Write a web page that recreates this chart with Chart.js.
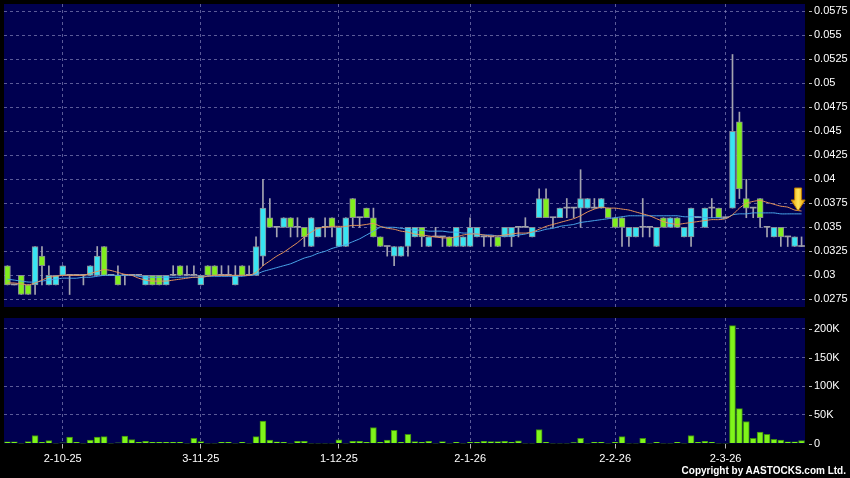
<!DOCTYPE html>
<html>
<head>
<meta charset="utf-8">
<script src="https://cdn.jsdelivr.net/npm/chart.js@4.4.1/dist/chart.umd.min.js"></script>
<style>
    html, body { margin: 0; padding: 0; background: #000; }
    #wrap { position: relative; width: 850px; height: 478px; background: #000; overflow: hidden; }
    #priceBox { position: absolute; left: 0; top: 0; }
    #volBox { position: absolute; left: 0; top: 312px; }
    #copy {
        position: absolute; right: 4px; top: 465px;
        color: #fff; font: bold 10px "Liberation Sans", Arial, sans-serif;
        white-space: nowrap;
    }
</style>
</head>
<body>
<div id="wrap">
    <div id="priceBox"><canvas id="priceChart" width="850" height="312"></canvas></div>
    <div id="volBox"><canvas id="volChart" width="850" height="166"></canvas></div>
    <div id="copy">Copyright by AASTOCKS.com Ltd.</div>
</div>
<script>
// ---- data (one entry per trading day) ----
const DATE_TICKS = ['2-10-25', '3-11-25', '1-12-25', '2-1-26', '2-2-26', '2-3-26'];
const DATE_TICK_INDEX = [8, 28, 48, 67, 88, 104];

const OPEN = [
    0.031, 0.029, 0.030, 0.029, 0.029, 0.032, 0.029, 0.029, 0.030, 0.030,
    0.030, 0.030, 0.030, 0.030, 0.033, 0.030, 0.030, 0.030, 0.030, 0.030,
    0.029, 0.030, 0.030, 0.029, 0.030, 0.031, 0.030, 0.030, 0.029, 0.031,
    0.031, 0.030, 0.030, 0.029, 0.031, 0.030, 0.030, 0.032, 0.036, 0.035,
    0.035, 0.036, 0.035, 0.035, 0.033, 0.034, 0.035, 0.036, 0.033, 0.033,
    0.038, 0.036, 0.037, 0.036, 0.034, 0.033, 0.032, 0.032, 0.033, 0.034,
    0.035, 0.033, 0.034, 0.034, 0.034, 0.033, 0.033, 0.033, 0.034, 0.034,
    0.034, 0.034, 0.034, 0.034, 0.035, 0.035, 0.034, 0.036, 0.038, 0.036,
    0.036, 0.037, 0.037, 0.037, 0.037, 0.037, 0.037, 0.037, 0.036, 0.036,
    0.034, 0.034, 0.035, 0.035, 0.033, 0.036, 0.035, 0.036, 0.034, 0.034,
    0.036, 0.035, 0.037, 0.037, 0.036, 0.037, 0.046, 0.038, 0.037, 0.038,
    0.035, 0.034, 0.035, 0.034, 0.033, 0.033
];
const HIGH = [
    0.031, 0.029, 0.030, 0.029, 0.033, 0.033, 0.031, 0.030, 0.031, 0.030,
    0.030, 0.030, 0.031, 0.033, 0.033, 0.030, 0.031, 0.030, 0.030, 0.030,
    0.030, 0.030, 0.030, 0.030, 0.031, 0.031, 0.031, 0.031, 0.030, 0.031,
    0.031, 0.031, 0.031, 0.031, 0.031, 0.031, 0.034, 0.040, 0.038, 0.035,
    0.036, 0.036, 0.036, 0.035, 0.036, 0.035, 0.036, 0.036, 0.035, 0.036,
    0.038, 0.036, 0.037, 0.037, 0.034, 0.033, 0.033, 0.033, 0.035, 0.035,
    0.035, 0.034, 0.035, 0.034, 0.034, 0.035, 0.034, 0.036, 0.035, 0.034,
    0.034, 0.034, 0.035, 0.035, 0.035, 0.036, 0.035, 0.039, 0.039, 0.036,
    0.037, 0.038, 0.037, 0.041, 0.038, 0.038, 0.038, 0.037, 0.036, 0.036,
    0.035, 0.035, 0.038, 0.035, 0.035, 0.036, 0.036, 0.036, 0.035, 0.037,
    0.036, 0.037, 0.038, 0.037, 0.036, 0.053, 0.047, 0.040, 0.037, 0.038,
    0.035, 0.035, 0.035, 0.034, 0.034, 0.034
];
const LOW = [
    0.029, 0.029, 0.028, 0.028, 0.028, 0.029, 0.029, 0.029, 0.030, 0.028,
    0.030, 0.029, 0.030, 0.030, 0.030, 0.030, 0.029, 0.029, 0.030, 0.030,
    0.029, 0.029, 0.029, 0.029, 0.030, 0.030, 0.030, 0.030, 0.029, 0.030,
    0.030, 0.030, 0.030, 0.029, 0.030, 0.030, 0.030, 0.031, 0.035, 0.034,
    0.035, 0.034, 0.034, 0.033, 0.033, 0.034, 0.034, 0.034, 0.033, 0.033,
    0.035, 0.035, 0.036, 0.034, 0.033, 0.032, 0.031, 0.032, 0.032, 0.034,
    0.033, 0.033, 0.034, 0.033, 0.033, 0.033, 0.033, 0.033, 0.034, 0.033,
    0.033, 0.033, 0.034, 0.033, 0.034, 0.035, 0.034, 0.036, 0.036, 0.035,
    0.036, 0.036, 0.036, 0.035, 0.037, 0.037, 0.037, 0.036, 0.035, 0.033,
    0.033, 0.034, 0.034, 0.034, 0.033, 0.035, 0.035, 0.035, 0.034, 0.033,
    0.036, 0.035, 0.036, 0.036, 0.036, 0.037, 0.038, 0.036, 0.036, 0.035,
    0.034, 0.034, 0.033, 0.033, 0.033, 0.033
];
const CLOSE = [
    0.029, 0.029, 0.028, 0.028, 0.033, 0.031, 0.030, 0.030, 0.031, 0.030,
    0.030, 0.030, 0.031, 0.032, 0.030, 0.030, 0.029, 0.030, 0.030, 0.030,
    0.030, 0.029, 0.029, 0.030, 0.030, 0.030, 0.030, 0.030, 0.030, 0.030,
    0.030, 0.030, 0.030, 0.030, 0.030, 0.030, 0.033, 0.037, 0.035, 0.035,
    0.036, 0.035, 0.035, 0.034, 0.036, 0.035, 0.035, 0.035, 0.035, 0.036,
    0.036, 0.036, 0.036, 0.034, 0.033, 0.033, 0.033, 0.033, 0.035, 0.035,
    0.034, 0.034, 0.034, 0.034, 0.033, 0.035, 0.034, 0.035, 0.035, 0.034,
    0.034, 0.033, 0.035, 0.035, 0.035, 0.035, 0.035, 0.038, 0.036, 0.036,
    0.037, 0.037, 0.037, 0.038, 0.038, 0.037, 0.038, 0.036, 0.035, 0.035,
    0.035, 0.035, 0.035, 0.035, 0.035, 0.035, 0.036, 0.035, 0.035, 0.037,
    0.036, 0.037, 0.037, 0.036, 0.036, 0.045, 0.039, 0.037, 0.037, 0.036,
    0.035, 0.035, 0.034, 0.034, 0.034, 0.033
];
// volume in thousands of shares
const VOLUME_K = [
    3, 3, 0.5, 3.5, 14, 2, 5, 0.5, 1, 11,
    2, 0.5, 6, 11, 12, 0.5, 1, 13, 7, 2,
    4, 2, 2, 2, 2, 2, 0.5, 9, 3.5, 0.5,
    0.5, 2, 2, 0.5, 2, 0.5, 12, 39, 6, 3,
    2, 0.5, 4, 4, 0.5, 0.5, 0.5, 0.5, 6.5, 0.5,
    4, 4, 2, 28, 2, 6, 23, 2, 16, 3.5,
    2, 4, 0.5, 3.5, 0.5, 2, 0.5, 2, 2, 4,
    3.5, 3.5, 4, 2, 4.5, 0.5, 0.5, 24.5, 2, 0.5,
    0.5, 0.5, 1.5, 9, 0.5, 2, 2, 0.5, 2, 12,
    0.5, 0.5, 9, 0.5, 2, 0.5, 0.5, 2, 0.5, 14,
    2, 4, 2, 0.5, 0.5, 206, 61, 38.5, 9, 20,
    16, 7.5, 6, 3, 3, 5
];
// moving averages as drawn (orange = short, blue = long)
const MA_SHORT = [
    0.0292, 0.0292, 0.0291, 0.0290, 0.0292, 0.0295, 0.0298, 0.0299, 0.0300, 0.0300,
    0.0300, 0.0300, 0.0302, 0.0304, 0.0306, 0.0305, 0.0303, 0.0301, 0.0300, 0.0297,
    0.0295, 0.0294, 0.0294, 0.0294, 0.0295, 0.0296, 0.0297, 0.0298, 0.0298, 0.0299,
    0.0300, 0.0300, 0.0300, 0.0300, 0.0300, 0.0300, 0.0303, 0.0310, 0.0315, 0.0320,
    0.0324, 0.0329, 0.0334, 0.0340, 0.0345, 0.0349, 0.0350, 0.0351, 0.0351, 0.0351,
    0.0352, 0.0352, 0.0353, 0.0354, 0.0351, 0.0349, 0.0348, 0.0346, 0.0345, 0.0343,
    0.0342, 0.0341, 0.0340, 0.0339, 0.0339, 0.0340, 0.0342, 0.0343, 0.0343, 0.0342,
    0.0341, 0.0341, 0.0342, 0.0343, 0.0344, 0.0344, 0.0345, 0.0348, 0.0351, 0.0353,
    0.0355, 0.0357, 0.0359, 0.0362, 0.0366, 0.0369, 0.0371, 0.0370, 0.0370, 0.0369,
    0.0368, 0.0366, 0.0364, 0.0362, 0.0359, 0.0356, 0.0354, 0.0353, 0.0354, 0.0355,
    0.0356, 0.0357, 0.0358, 0.0358, 0.0359, 0.0363, 0.0370, 0.0375, 0.0377, 0.0378,
    0.0376, 0.0374, 0.0372, 0.0371, 0.0368, 0.0367
];
const MA_LONG = [
    0.0296, 0.0295, 0.0294, 0.0293, 0.0293, 0.0294, 0.0295, 0.0296, 0.0297, 0.0297,
    0.0297, 0.0298, 0.0298, 0.0299, 0.0300, 0.0300, 0.0300, 0.0300, 0.0300, 0.0299,
    0.0298, 0.0298, 0.0298, 0.0298, 0.0298, 0.0298, 0.0298, 0.0298, 0.0298, 0.0299,
    0.0299, 0.0299, 0.0299, 0.0299, 0.0299, 0.0300, 0.0301, 0.0304, 0.0306, 0.0308,
    0.0310, 0.0312, 0.0315, 0.0318, 0.0320, 0.0323, 0.0325, 0.0328, 0.0330, 0.0332,
    0.0335, 0.0338, 0.0342, 0.0346, 0.0350, 0.0350, 0.0350, 0.0349, 0.0348, 0.0347,
    0.0347, 0.0346, 0.0346, 0.0346, 0.0345, 0.0345, 0.0344, 0.0344, 0.0343, 0.0342,
    0.0342, 0.0341, 0.0341, 0.0341, 0.0342, 0.0343, 0.0345, 0.0346, 0.0348, 0.0349,
    0.0351, 0.0352, 0.0353, 0.0355, 0.0356, 0.0357, 0.0358, 0.0359, 0.0360, 0.0361,
    0.0362, 0.0362, 0.0362, 0.0362, 0.0362, 0.0362, 0.0362, 0.0362, 0.0361, 0.0361,
    0.0361, 0.0360, 0.0360, 0.0360, 0.0359, 0.0363, 0.0364, 0.0364, 0.0365, 0.0365,
    0.0365, 0.0365, 0.0364, 0.0364, 0.0364, 0.0364
];

const PRICE_TICKS = [0.0275, 0.03, 0.0325, 0.035, 0.0375, 0.04, 0.0425, 0.045, 0.0475, 0.05, 0.0525, 0.055, 0.0575];
const VOLUME_TICKS = [0, 50, 100, 150, 200];

// ---- colours / fonts ----
const PLOT_BG = '#000050';
const GRID = 'rgba(140, 140, 190, 0.65)';
const UP = '#38e4f2';
const DOWN = '#80ee1e';
const FLAT = '#a0a0a8';
const FONT = { family: '"Liberation Sans", Arial, sans-serif', size: 11 };

// build the category labels and candle pieces from the arrays above
const labels = OPEN.map((_, i) => {
    const k = DATE_TICK_INDEX.indexOf(i);
    return k >= 0 ? DATE_TICKS[k] : '';
});
const bodies = OPEN.map((o, i) => [Math.min(o, CLOSE[i]), Math.max(o, CLOSE[i])]);
const wicks = LOW.map((l, i) => [l, HIGH[i]]);

function candleColor(i) {
    if (CLOSE[i] > OPEN[i]) return UP;
    if (CLOSE[i] < OPEN[i]) return DOWN;
    return FLAT;
}

function onlyDateTicks(scale) {
    scale.ticks = scale.ticks.filter(t => DATE_TICK_INDEX.includes(t.value));
}

// fixed-size axes, no extra room for half labels
function fitRight(scale) {
    scale.width = 45;
    scale.paddingTop = 0;
    scale.paddingBottom = 0;
}

const plotBackground = {
    id: 'plotBackground',
    beforeDraw(chart) {
        const { ctx, chartArea: a } = chart;
        ctx.save();
        ctx.fillStyle = PLOT_BG;
        ctx.fillRect(a.left, a.top, a.right - a.left, a.bottom - a.top);
        ctx.restore();
    }
};

// small "-" marks in front of the right-hand labels
const rightTickMarks = {
    id: 'rightTickMarks',
    afterDraw(chart) {
        const { ctx, chartArea: a } = chart;
        const y = chart.scales.y;
        ctx.save();
        ctx.strokeStyle = '#b8b8b8';
        ctx.lineWidth = 1;
        y.ticks.forEach(t => {
            const py = Math.round(y.getPixelForValue(t.value)) + 0.5;
            ctx.beginPath();
            ctx.moveTo(a.right + 4, py);
            ctx.lineTo(a.right + 7, py);
            ctx.stroke();
        });
        ctx.restore();
    }
};

// the yellow arrow marking the latest moving-average value
const lastArrow = {
    id: 'lastArrow',
    afterDatasetsDraw(chart) {
        const { ctx } = chart;
        const x = chart.scales.x, y = chart.scales.y;
        const n = MA_SHORT.length - 1;
        const cx = (x.getPixelForValue(n - 1) + x.getPixelForValue(n)) / 2;
        const tip = y.getPixelForValue(MA_SHORT[n]);
        const g = ctx.createLinearGradient(cx - 7, 0, cx + 7, 0);
        g.addColorStop(0, '#e89a00');
        g.addColorStop(0.5, '#ffe65a');
        g.addColorStop(1, '#e89a00');
        ctx.save();
        ctx.fillStyle = g;
        ctx.strokeStyle = '#b87800';
        ctx.lineWidth = 1;
        ctx.beginPath();
        ctx.moveTo(cx - 3.5, tip - 23);
        ctx.lineTo(cx + 3.5, tip - 23);
        ctx.lineTo(cx + 3.5, tip - 11);
        ctx.lineTo(cx + 7, tip - 11);
        ctx.lineTo(cx, tip);
        ctx.lineTo(cx - 7, tip - 11);
        ctx.lineTo(cx - 3.5, tip - 11);
        ctx.closePath();
        ctx.fill();
        ctx.stroke();
        ctx.restore();
    }
};

const priceChart = new Chart(document.getElementById('priceChart'), {
    type: 'bar',
    data: {
        labels: labels,
        datasets: [
            {
                type: 'line', label: 'MA short', data: MA_SHORT,
                borderColor: '#e8945a', borderWidth: 1, pointRadius: 0, tension: 0.2, order: 0
            },
            {
                type: 'line', label: 'MA long', data: MA_LONG,
                borderColor: '#4aa6ea', borderWidth: 1, pointRadius: 0, tension: 0.2, order: 0
            },
            {
                label: 'Body', data: bodies,
                backgroundColor: c => candleColor(c.dataIndex),
                borderColor: c => candleColor(c.dataIndex) === FLAT ? FLAT : '#8a8a96',
                borderWidth: c => candleColor(c.dataIndex) === FLAT ? 0 : 1,
                borderSkipped: false, barThickness: 6, minBarLength: 1,
                grouped: false, order: 1
            },
            {
                label: 'Wick', data: wicks,
                backgroundColor: '#a4a4b0', barThickness: 1,
                grouped: false, order: 2
            }
        ]
    },
    options: {
        responsive: false,
        animation: false,
        layout: { padding: { left: 4, top: 4, right: 0, bottom: 5 } },
        plugins: { legend: { display: false }, tooltip: { enabled: false } },
        scales: {
            x: {
                offset: true,
                afterBuildTicks: onlyDateTicks,
                afterFit: s => { s.height = 0; s.paddingLeft = 0; s.paddingRight = 0; },
                ticks: { display: false, autoSkip: false },
                grid: { offset: false, color: GRID, drawTicks: false },
                border: { display: false, dash: [3, 3] }
            },
            y: {
                position: 'right',
                min: 0.0267,
                max: 0.05826,
                afterBuildTicks: s => { s.ticks = PRICE_TICKS.map(v => ({ value: v })); },
                afterFit: fitRight,
                ticks: {
                    color: '#ffffff', font: FONT, padding: 9,
                    callback: v => String(+v.toFixed(4))
                },
                grid: { color: GRID, drawTicks: false },
                border: { display: false, dash: [3, 3] }
            }
        }
    },
    plugins: [plotBackground, rightTickMarks, lastArrow]
});

const volChart = new Chart(document.getElementById('volChart'), {
    type: 'bar',
    data: {
        labels: labels,
        datasets: [{
            label: 'Volume', data: VOLUME_K,
            backgroundColor: '#7ff41a', borderColor: '#3d8a10', borderWidth: 1,
            borderSkipped: 'bottom', barThickness: 6
        }]
    },
    options: {
        responsive: false,
        animation: false,
        layout: { padding: { left: 4, top: 6, right: 0, bottom: 0 } },
        plugins: { legend: { display: false }, tooltip: { enabled: false } },
        scales: {
            x: {
                offset: true,
                afterBuildTicks: onlyDateTicks,
                afterFit: s => { s.height = 34.5; s.paddingLeft = 0; s.paddingRight = 0; },
                ticks: { color: '#ffffff', font: FONT, autoSkip: false, maxRotation: 0, padding: 4 },
                grid: { offset: false, color: GRID, tickColor: '#b8b8b8', tickLength: 5, tickBorderDash: [] },
                border: { display: false, dash: [3, 3] }
            },
            y: {
                position: 'right',
                min: 0,
                max: 219.2,
                afterBuildTicks: s => { s.ticks = VOLUME_TICKS.map(v => ({ value: v })); },
                afterFit: fitRight,
                ticks: {
                    color: '#ffffff', font: FONT, padding: 9,
                    callback: v => (v === 0 ? '0' : v + 'K')
                },
                grid: { color: c => (c.tick && c.tick.value === 0 ? 'transparent' : GRID), drawTicks: false },
                border: { display: false, dash: [3, 3] }
            }
        }
    },
    plugins: [plotBackground, rightTickMarks]
});
</script>
</body>
</html>
